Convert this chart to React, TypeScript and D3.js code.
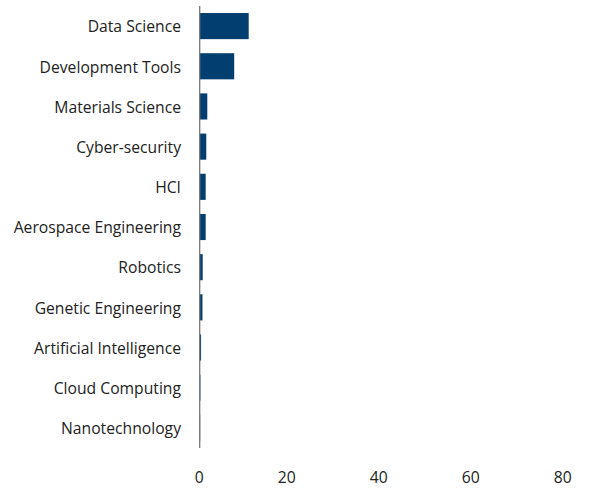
import React from "react";
import * as d3 from "d3";

const categories = [
  "Data Science",
  "Development Tools",
  "Materials Science",
  "Cyber-security",
  "HCI",
  "Aerospace Engineering",
  "Robotics",
  "Genetic Engineering",
  "Artificial Intelligence",
  "Cloud Computing",
  "Nanotechnology",
];
const values = [10.65, 7.5, 1.65, 1.43, 1.3, 1.3, 0.65, 0.6, 0.3, 0.15, 0.1];
const xTicks = [0, 20, 40, 60, 80];

export default function App() {
  const width = 593;
  const height = 491;
  const x = d3.scaleLinear().domain([0, 80]).range([199.7, 567.7]);
  const y = d3
    .scaleBand<string>()
    .domain(categories)
    .range([6, 448])
    .paddingInner(0.35)
    .paddingOuter(0.175);
  const font = "'Open Sans', sans-serif";
  return (
    <svg
      width={width}
      height={height}
      style={{ position: "absolute", left: 0, top: 0 }}
    >
      <rect width={width} height={height} fill="#fff" />
      {categories.map((c, i) => (
        <rect
          key={c}
          x={x(0)}
          y={y(c)!}
          width={x(values[i]) - x(0)}
          height={y.bandwidth()}
          fill="#023e6f"
        />
      ))}
      <line x1={x(0)} x2={x(0)} y1={6} y2={448} stroke="#777" strokeWidth={1.3} />
      {categories.map((c) => (
        <text
          key={c}
          x={181}
          y={y(c)! + y.bandwidth() / 2 + 0.8}
          dy="0.35em"
          textAnchor="end"
          fontFamily={font}
          fontSize={15.7}
          fill="#222"
        >
          {c}
        </text>
      ))}
      {xTicks.map((t) => (
        <text
          key={t}
          x={x(t) + 4}
          y={478}
          dy="0.35em"
          textAnchor="end"
          fontFamily={font}
          fontSize={15.7}
          fill="#222"
        >
          {t}
        </text>
      ))}
    </svg>
  );
}
